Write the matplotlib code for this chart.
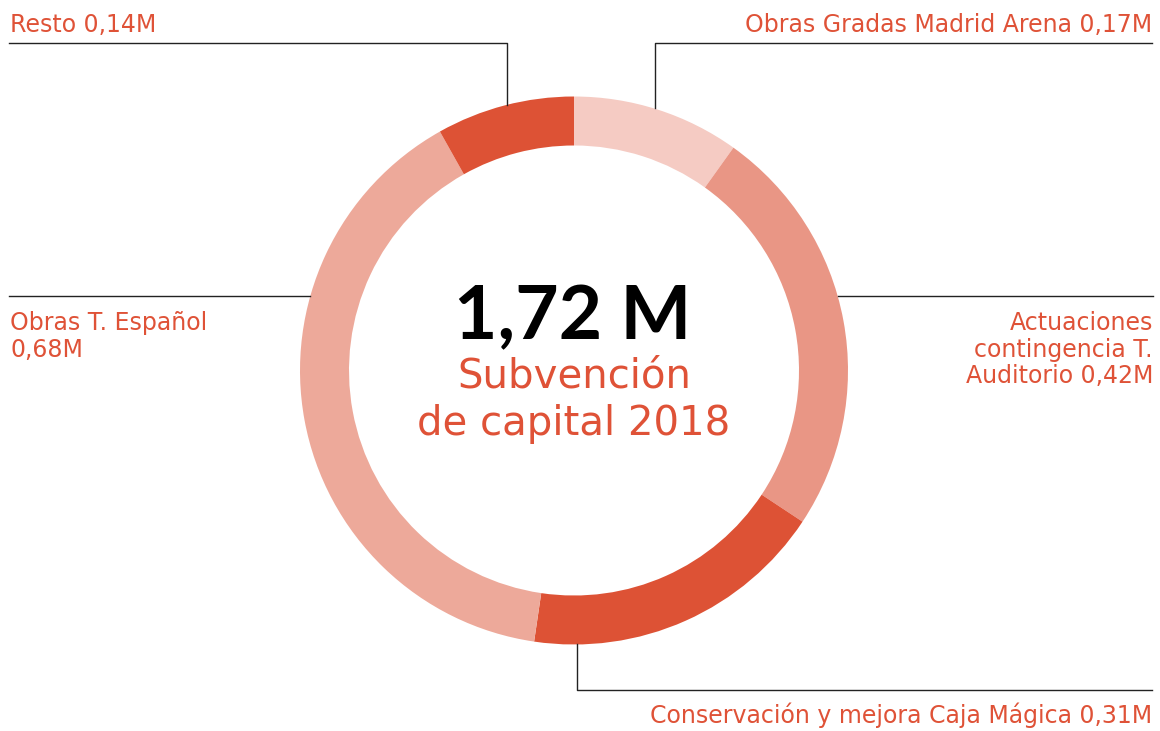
import matplotlib
matplotlib.use("Agg")
from matplotlib import pyplot as plt

# datos (millones de euros)
labels = ["Obras Gradas Madrid Arena", "Actuaciones\ncontingencia T.\nAuditorio",
          "Conservación y mejora Caja Mágica", "Obras T. Español", "Resto"]
values = [0.17, 0.42, 0.31, 0.68, 0.14]
value_text = ["0,17M", "0,42M", "0,31M", "0,68M", "0,14M"]
colors = ["#F5CBC3", "#E99685", "#DD5235", "#EDA99A", "#DD5235"]
total_text = "1,72 M"
subtitle = ["Subvención", "de capital 2018"]

W, H = 1160, 731
red = "#DF5237"
plt.rcParams['font.family'] = ['DejaVu Sans']

fig = plt.figure(figsize=(W / 100, H / 100), dpi=100)
ax = fig.add_axes([0, 0, 1, 1])

def py(y):
    # pasar coordenada de pixel (desde arriba) al eje
    return H - y

# donut
cx, cy, r = 574, py(370.5), 274
ax.pie(values, colors=colors, startangle=90, counterclock=False,
       center=(cx, cy), radius=r, wedgeprops=dict(width=49, linewidth=0),
       frame=True)
ax.set_xlim(0, W)
ax.set_ylim(0, H)
ax.set_aspect("equal")
ax.axis("off")

# lineas guia
lc = dict(color="#222222", lw=1)
ax.plot([9, 507, 507], [py(43), py(43), py(105)], **lc)
ax.plot([655, 655, 1152], [py(108), py(43), py(43)], **lc)
ax.plot([9, 310], [py(296), py(296)], **lc)
ax.plot([838, 1153], [py(296), py(296)], **lc)
ax.plot([577, 577, 1152], [py(644), py(690), py(690)], **lc)

fs = 17
ax.text(10, py(32), labels[4] + " " + value_text[4], color=red, fontsize=fs, va="baseline", ha="left")
ax.text(1152, py(32), labels[0] + " " + value_text[0], color=red, fontsize=fs, va="baseline", ha="right")
ax.text(1152, py(723), labels[2] + " " + value_text[2], color=red, fontsize=fs, va="baseline", ha="right")

# Obras T. Español en dos lineas
for i, line in enumerate([labels[3], value_text[3]]):
    ax.text(10, py(330 + 27 * i), line, color=red, fontsize=fs, va="baseline", ha="left")

# Auditorio en tres lineas
aud = labels[1].split("\n")
aud[-1] = aud[-1] + " " + value_text[1]
for i, line in enumerate(aud):
    ax.text(1153, py(330 + 26.5 * i), line, color=red, fontsize=fs, va="baseline", ha="right")

# texto central
ax.text(573, py(339), total_text, color="black", fontsize=54, fontweight="bold",
        va="baseline", ha="center", family=["Lato", "DejaVu Sans"])
for i, line in enumerate(subtitle):
    ax.text(574, py(387 + 48 * i), line, color=red, fontsize=29, va="baseline", ha="center")

fig.savefig("out.png", dpi=100)
